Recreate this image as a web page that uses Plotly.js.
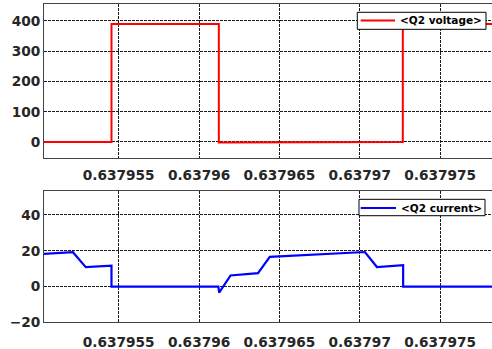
<!DOCTYPE html>
<html>
<head>
<meta charset="utf-8">
<script src="https://cdn.plot.ly/plotly-3.0.1.min.js"></script>
<style>html,body{margin:0;padding:0;background:#fff;}#chart{width:492px;height:349px;}</style>
</head>
<body>
<div id="chart"></div>
<script>
// Q2 voltage (time, value)
const timeV = [0.63795035, 0.63795455, 0.63795455, 0.63796123, 0.63796123, 0.63796367, 0.63796367, 0.63797268, 0.63797268, 0.63797823];
const voltage = [0, 0, 390, 390, -2, -2, 0, 0, 390, 390];

// Q2 current (time, value)
const timeI = [0.63795035, 0.63795215, 0.63795295, 0.63795455, 0.63795455, 0.63796120, 0.63796125, 0.63796196, 0.63796367, 0.63796440, 0.63797032, 0.63797107, 0.63797270, 0.63797270, 0.63797823];
const current = [18.3, 19.2, 10.8, 11.7, 0, 0, -3.4, 6.2, 7.5, 16.6, 19.3, 10.9, 11.9, 0, 0];

// series names
const seriesNames = ['&lt;Q2 voltage&gt;', '&lt;Q2 current&gt;'];
const seriesColors = ['#ff0000', '#0000ff'];

// axis ticks
const xTickVals = [0.637955, 0.63796, 0.637965, 0.63797, 0.637975];
const xTickText = ['0.637955', '0.63796', '0.637965', '0.63797', '0.637975'];
const yTickVoltage = [0, 100, 200, 300, 400];
const yTickCurrent = [-20, 0, 20, 40];

const FONT = 'DejaVu Sans, Arial, sans-serif';
const tickFont = {family: FONT, size: 13.7, weight: 'bold', color: '#262626'};
const gridStyle = {showgrid: true, gridcolor: '#1a1a1a', griddash: '3px,1px', gridwidth: 1, zeroline: false, ticks: '', showline: true, linecolor: '#444', linewidth: 1, tickfont: tickFont};

const traces = [
  {x: timeV, y: voltage, type: 'scatter', mode: 'lines', name: seriesNames[0],
   line: {color: seriesColors[0], width: 2}, xaxis: 'x', yaxis: 'y', showlegend: false},
  {x: timeI, y: current, type: 'scatter', mode: 'lines', name: seriesNames[1],
   line: {color: seriesColors[1], width: 2.2}, xaxis: 'x2', yaxis: 'y2', showlegend: false}
];

// legend boxes (paper coordinates)
function legendParts(box, sample, textX, name, color) {
  const shapes = [
    {type: 'rect', xref: 'paper', yref: 'paper', x0: box[0], x1: box[1], y0: box[2], y1: box[3],
     fillcolor: '#ffffff', line: {color: '#000000', width: 1}, layer: 'above'},
    {type: 'line', xref: 'paper', yref: 'paper', x0: sample[0], x1: sample[1], y0: sample[2], y1: sample[2],
     line: {color: color, width: 2}, layer: 'above'}
  ];
  const ann = {xref: 'paper', yref: 'paper', x: textX, y: sample[2], xanchor: 'left', yanchor: 'middle',
    text: name, showarrow: false, font: {family: FONT, size: 10.5, weight: 'bold', color: '#000000'}};
  return {shapes, ann};
}
const lg1 = legendParts([0.6993, 0.9866, 0.9160, 0.9648], [0.7069, 0.7835, 0.9413], 0.7900, seriesNames[0], seriesColors[0]);
const lg2 = legendParts([0.7031, 0.9844, 0.3819, 0.4289], [0.7069, 0.7857, 0.4040], 0.7916, seriesNames[1], seriesColors[1]);

const layout = {
  width: 492, height: 349,
  margin: {l: 44, r: 0, t: 0, b: 0},
  paper_bgcolor: '#ffffff', plot_bgcolor: '#ffffff',
  showlegend: false,
  xaxis: Object.assign({}, gridStyle, {domain: [0, 1], anchor: 'y', range: [0.63795035, 0.63797823],
    tickmode: 'array', tickvals: xTickVals, ticktext: xTickText, mirror: true, ticklabelstandoff: 5}),
  yaxis: Object.assign({}, gridStyle, {domain: [0.5481, 0.9877], anchor: 'x', range: [-52, 455],
    tickmode: 'array', tickvals: yTickVoltage, mirror: false}),
  xaxis2: Object.assign({}, gridStyle, {domain: [0, 1], anchor: 'y2', range: [0.63795035, 0.63797823],
    tickmode: 'array', tickvals: xTickVals, ticktext: xTickText, mirror: true, ticklabelstandoff: 7}),
  yaxis2: Object.assign({}, gridStyle, {domain: [0.0765, 0.4527], anchor: 'x2', range: [-20, 53.4],
    tickmode: 'array', tickvals: yTickCurrent, mirror: false}),
  shapes: lg1.shapes.concat(lg2.shapes),
  annotations: [lg1.ann, lg2.ann]
};

Plotly.newPlot('chart', traces, layout, {staticPlot: true, displayModeBar: false});
</script>
</body>
</html>
